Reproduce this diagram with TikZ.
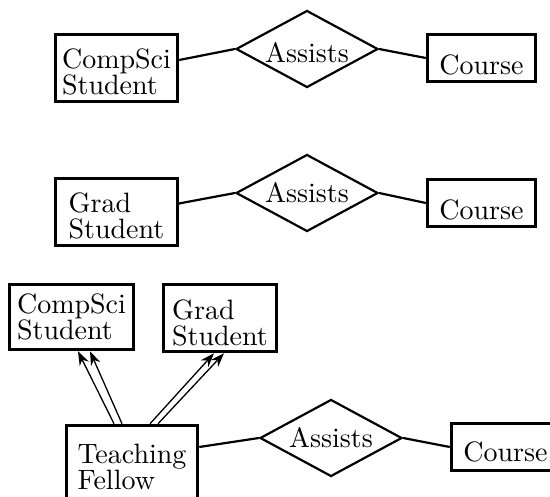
\documentclass[tikz,border=0pt]{standalone}
\usepackage{fontspec}
\setmainfont{lmroman10-regular}[Extension=.otf]
\usetikzlibrary{shapes.geometric,arrows.meta}
\begin{document}
\begin{tikzpicture}[x=1pt,y=-1pt,every node/.style={font=\fontsize{28}{26}\selectfont, inner sep=0pt, text depth=0pt},
ent/.style={draw, rectangle, line width=3.5pt, align=left},
rel/.style={draw, diamond, aspect=2, line width=2.2pt, minimum width=142pt, minimum height=77pt},
conn/.style={line width=2.2pt},
isa/.style={line width=1.3pt, -{Stealth[length=14pt,width=10pt]}}]
\useasboundingbox (0,0) rectangle (550,497);
\node[ent, minimum width=122pt, minimum height=67pt, text height=54pt] (cs1) at (116.5,68) {CompSci\\Student};
\node[rel, text height=28pt] (a1) at (307,49) {Assists};
\node[ent, minimum width=108pt, minimum height=47pt, text height=34pt] (c1) at (481.5,58) {Course};
\node[ent, minimum width=122pt, minimum height=67pt, text height=54pt] (g2) at (116.5,212) {Grad\\Student};
\node[rel, text height=20pt] (a2) at (307,193) {Assists};
\node[ent, minimum width=108pt, minimum height=47pt, text height=34pt] (c2) at (481.5,203) {Course};
\node[ent, minimum width=124pt, minimum height=65pt, text height=46pt] (cs3) at (71.5,317) {CompSci\\Student};
\node[ent, minimum width=113pt, minimum height=67pt, text height=56pt] (g3) at (220,318) {Grad\\Student};
\node[ent, minimum width=131pt, minimum height=73pt, text height=56pt] (tf) at (132,462) {Teaching\\Fellow};
\node[rel, text height=20pt] (a3) at (331,438) {Assists};
\node[ent, minimum width=108pt, minimum height=47pt, text height=30pt] (c3) at (505.5,447) {Course};
\draw[conn] ([yshift=8pt]cs1.east) -- (a1.west);
\draw[conn] (a1.east) -- (c1.west);
\draw[conn] ([xshift=-3pt,yshift=8pt]g2.east) -- (a2.west);
\draw[conn] (a2.east) -- (c2.west);
\draw[conn] ([yshift=15pt]tf.east) -- (a3.west);
\draw[conn] (a3.east) -- (c3.west);
\draw[isa] ([xshift=-18pt]tf.north) -- ([xshift=6.5pt]cs3.south);
\draw[isa] ([xshift=-10pt]tf.north) -- ([xshift=18.5pt]cs3.south);
\draw[isa] ([xshift=18pt]tf.north) -- ([xshift=-6pt]g3.south);
\draw[isa] ([xshift=26pt]tf.north) -- ([xshift=4pt]g3.south);
\end{tikzpicture}
\end{document}
